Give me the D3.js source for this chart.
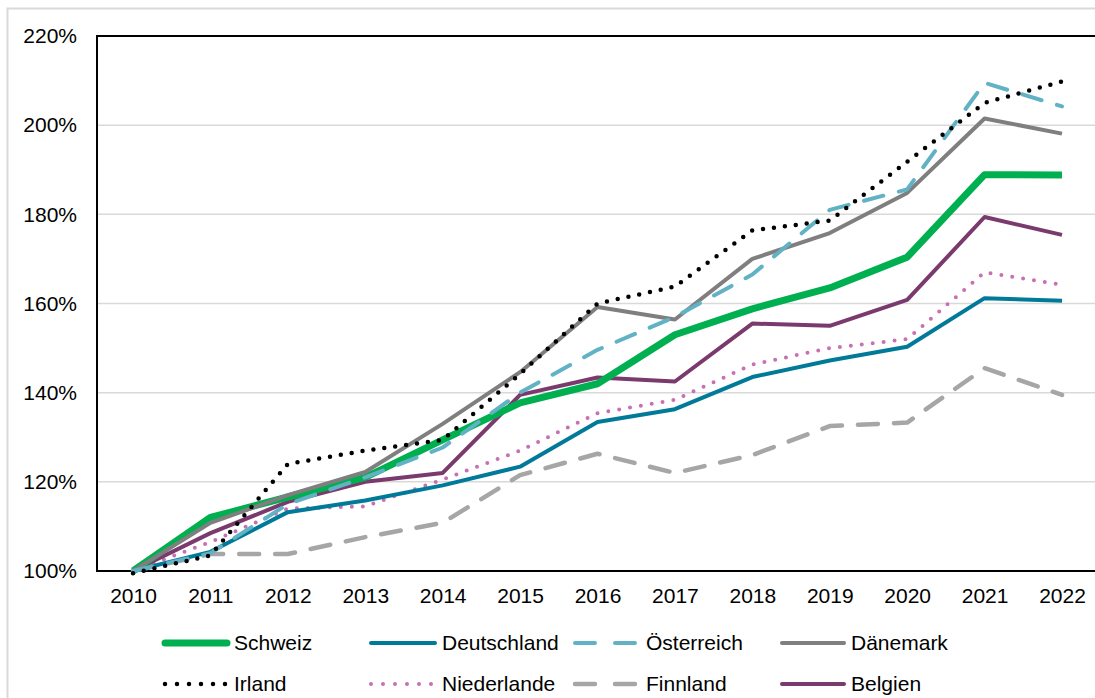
<!DOCTYPE html>
<html>
<head>
<meta charset="utf-8">
<script src="https://cdn.jsdelivr.net/npm/d3@7"></script>
<style>
  body { margin: 0; background: #fff; }
  text { font-family: "Liberation Sans", Arial, sans-serif; fill: #000; }
</style>
</head>
<body>
<div id="chart"></div>
<script>
var years = [2010, 2011, 2012, 2013, 2014, 2015, 2016, 2017, 2018, 2019, 2020, 2021, 2022];
var yTicks = [100, 120, 140, 160, 180, 200, 220];

var schweiz     = [100, 112, 116.6, 121, 129.4, 137.7, 142, 153, 158.8, 163.5, 170.4, 188.9, 188.8];
var deutschland = [100, 104.3, 113.2, 115.8, 119.2, 123.4, 133.4, 136.3, 143.5, 147.2, 150.3, 161.2, 160.6];
var oesterreich = [100, 104, 115, 121, 127.7, 140, 149.6, 157, 166.5, 181, 185.6, 209.5, 204.2];
var daenemark   = [100, 110.8, 117, 122.2, 133, 144.6, 159.2, 156.4, 170, 175.8, 184.8, 201.5, 198.1];
var irland      = [99.5, 103.5, 124, 127, 129.4, 144.2, 160, 163.8, 176.4, 178.6, 191.8, 205, 209.8];
var niederlande = [100, 106.5, 114, 114.5, 120.5, 127, 135.4, 138.4, 146.3, 150, 152, 167, 164.2];
var finnland    = [100, 103.8, 103.8, 107.6, 110.8, 121.5, 126.3, 122, 126, 132.5, 133.3, 145.5, 139.5];
var belgien     = [100, 108.5, 115.5, 120, 122, 139.5, 143.4, 142.5, 155.5, 155, 160.8, 179.4, 175.4];

var series = [
  {name: "Schweiz",     values: schweiz,     color: "#00b050", width: 7,   dash: null,    cap: "butt"},
  {name: "Deutschland", values: deutschland, color: "#007a98", width: 4,   dash: null,    cap: "butt"},
  {name: "Österreich",  values: oesterreich, color: "#62b2c6", width: 4,   dash: "20 16", cap: "round"},
  {name: "Dänemark",    values: daenemark,   color: "#7f7f7f", width: 4,   dash: null,    cap: "butt"},
  {name: "Irland",      values: irland,      color: "#000000", width: 4.5, dash: "0 11",  cap: "round"},
  {name: "Niederlande", values: niederlande, color: "#c770b2", width: 4,   dash: "0 11",  cap: "round"},
  {name: "Finnland",    values: finnland,    color: "#a6a6a6", width: 4.5, dash: "20 16", cap: "round"},
  {name: "Belgien",     values: belgien,     color: "#7b3a6d", width: 4,   dash: null,    cap: "butt"}
];

var W = 1095, H = 698;
var plotLeft = 97, plotTop = 36, plotBottom = 571, plotRight = 1095;
var fontSize = "21px";

var svg = d3.select("#chart").append("svg")
    .attr("width", W).attr("height", H);

// outer chart border
svg.append("rect")
    .attr("x", 7.5).attr("y", 8.5)
    .attr("width", W + 10).attr("height", H + 10)
    .attr("fill", "none").attr("stroke", "#d9d9d9").attr("stroke-width", 2);

var x = d3.scaleLinear().domain([2010, 2022]).range([133, 1062]);
var y = d3.scaleLinear().domain([100, 220]).range([plotBottom, plotTop]);

// gridlines
svg.append("g")
  .selectAll("line").data(yTicks.slice(1, -1)).enter().append("line")
    .attr("x1", plotLeft).attr("x2", plotRight)
    .attr("y1", function(d) { return y(d); })
    .attr("y2", function(d) { return y(d); })
    .attr("stroke", "#d9d9d9").attr("stroke-width", 1.5);

// Y axis
var yAxis = svg.append("g")
    .attr("transform", "translate(" + plotLeft + ",0)")
    .call(d3.axisLeft(y).tickValues(yTicks).tickSize(0).tickPadding(20)
          .tickFormat(function(d) { return d + "%"; }));
yAxis.select(".domain").remove();
yAxis.selectAll("text").style("font-size", fontSize);

// X axis
var xAxis = svg.append("g")
    .attr("transform", "translate(0," + plotBottom + ")")
    .call(d3.axisBottom(x).tickValues(years).tickSize(0).tickPadding(17)
          .tickFormat(d3.format("d")));
xAxis.select(".domain").remove();
xAxis.selectAll("text").style("font-size", fontSize);

// plot frame (top, left, bottom)
svg.append("path")
    .attr("d", "M" + plotRight + "," + plotTop + "H" + plotLeft + "V" + plotBottom + "H" + plotRight)
    .attr("fill", "none").attr("stroke", "#000").attr("stroke-width", 2);

var line = d3.line()
    .x(function(d, i) { return x(years[i]); })
    .y(function(d) { return y(d); });

// draw order: light ones first
var order = ["Finnland", "Niederlande", "Deutschland", "Belgien", "Schweiz", "Dänemark", "Österreich", "Irland"];
order.forEach(function(n) {
  var s = series.find(function(d) { return d.name === n; });
  svg.append("path").datum(s.values)
      .attr("d", line)
      .attr("fill", "none")
      .attr("stroke", s.color)
      .attr("stroke-width", s.width)
      .attr("stroke-linecap", s.cap)
      .attr("stroke-linejoin", "round")
      .attr("stroke-dasharray", s.dash);
});

// legend
var colStart = [165, 371, 575, 782];
var colText = [234, 442, 646, 851];
var rowY = [643, 684];
series.forEach(function(s, i) {
  var c = i % 4, cy = rowY[Math.floor(i / 4)];
  var g = svg.append("g");
  g.append("line")
      .attr("x1", colStart[c]).attr("x2", colText[c] - (s.dash === "0 11" ? 8 : 7))
      .attr("y1", cy).attr("y2", cy)
      .attr("stroke", s.color)
      .attr("stroke-width", s.width)
      .attr("stroke-linecap", "round")
      .attr("stroke-dasharray", s.dash === "0 11" ? "0 12" : (s.dash ? "20 20" : null));
  g.append("text")
      .attr("x", colText[c]).attr("y", cy)
      .attr("dy", "0.35em")
      .style("font-size", fontSize)
      .text(s.name);
});
</script>
</body>
</html>
